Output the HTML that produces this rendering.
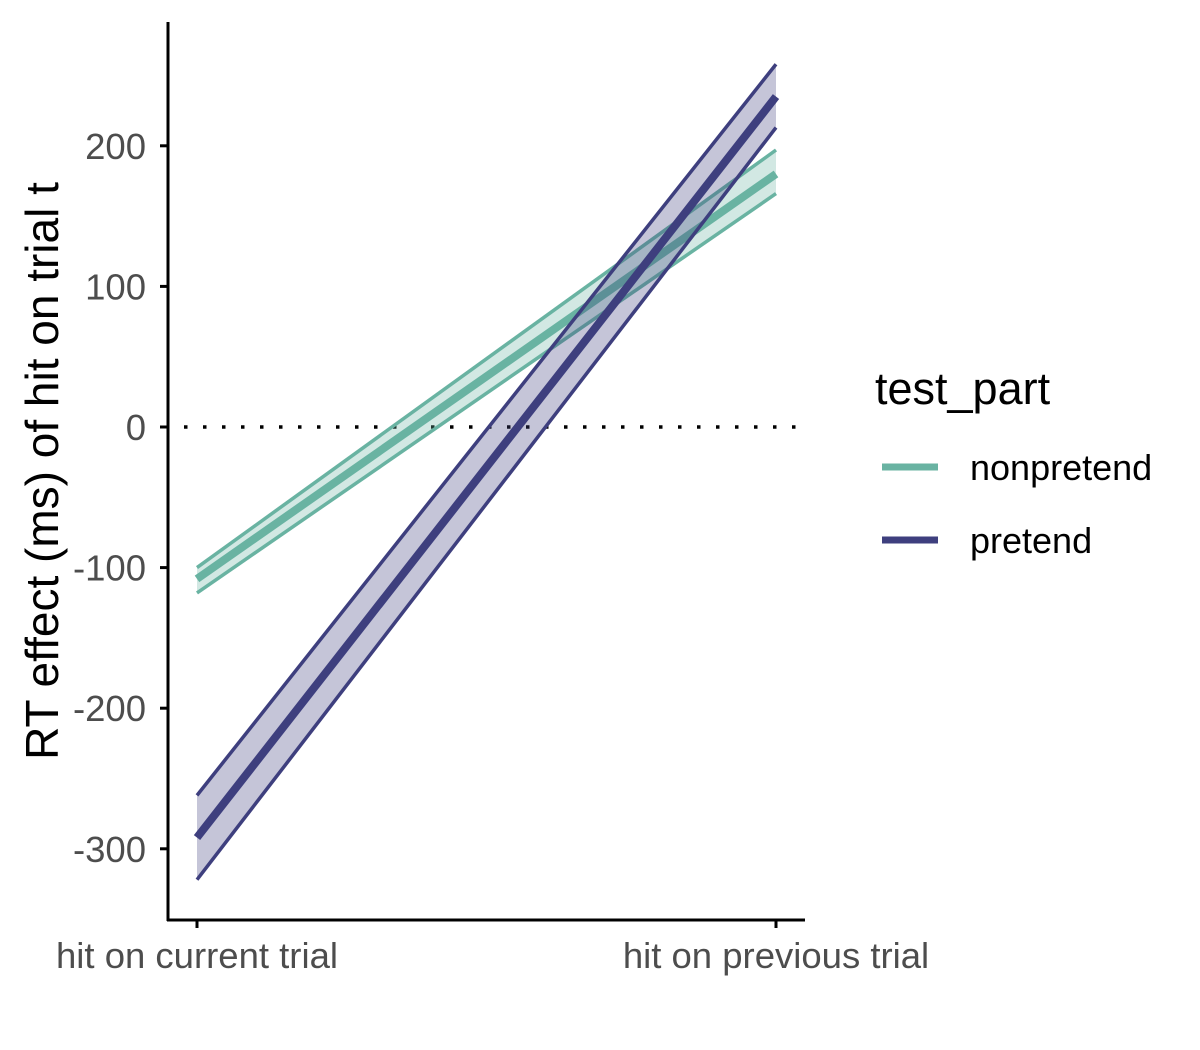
<!DOCTYPE html>
<html><head><meta charset="utf-8"><style>
body{margin:0;background:#fff;}
svg{display:block;font-family:"Liberation Sans",Arial,sans-serif;}
</style></head><body>
<svg id="chart" width="1200" height="1050"></svg>
<script>
const categories=["hit on current trial","hit on previous trial"];
const seriesNames=["nonpretend","pretend"];
const nonpretendMean=[-108,180];
const nonpretendLower=[-118,166];
const nonpretendUpper=[-100,197];
const pretendMean=[-292,235];
const pretendLower=[-322,213];
const pretendUpper=[-262,258];
const yTicks=[-300,-200,-100,0,100,200];
const yTickLabels=["-300","-200","-100","0","100","200"];

const NS="http://www.w3.org/2000/svg";
const svg=document.getElementById('chart');
function y(v){return 427-v*1.406;}
function x(i){return 197+i*579;}
function mk(tag,attrs,parent){const e=document.createElementNS(NS,tag);for(const k in attrs)e.setAttribute(k,attrs[k]);(parent||svg).appendChild(e);return e;}

let zl=mk('line',{x1:184,x2:800,y1:y(0),y2:y(0),stroke:'#000','stroke-width':3.5,'stroke-dasharray':'3.5,15.5'});



const series=[
 {name:'nonpretend',mean:nonpretendMean,lo:nonpretendLower,hi:nonpretendUpper,color:'#69b3a2'},
 {name:'pretend',mean:pretendMean,lo:pretendLower,hi:pretendUpper,color:'#3e3f7e'}
];
series.forEach(s=>{
 const g=mk('g',{});
 
 
 const pts=[[x(0),y(s.hi[0])],[x(1),y(s.hi[1])],[x(1),y(s.lo[1])],[x(0),y(s.lo[0])]];
 const rb=mk('polygon',{points:pts.map(p=>p.join(',')).join(' '),fill:s.color,'fill-opacity':0.3},g);
 
 
 [s.lo,s.hi].forEach((arr,k)=>{
  const l=mk('line',{x1:x(0),y1:y(arr[0]),x2:x(1),y2:y(arr[1]),stroke:s.color,'stroke-width':3.5},g);
  
  
 });
 const m=mk('line',{x1:x(0),y1:y(s.mean[0]),x2:x(1),y2:y(s.mean[1]),stroke:s.color,'stroke-width':8},g);
 
 
});

let ya=mk('line',{x1:168,y1:22,x2:168,y2:921,stroke:'#000','stroke-width':3});


let xa=mk('line',{x1:167,y1:920,x2:805,y2:920,stroke:'#000','stroke-width':3});


yTicks.forEach((v,i)=>{
 const t=mk('line',{x1:160,x2:168,y1:y(v),y2:y(v),stroke:'#000','stroke-width':3});
 
 
 const tx=mk('text',{x:146,y:y(v)+13,'text-anchor':'end','font-size':36.5,fill:'#4d4d4d'});
 tx.textContent=yTickLabels[i];
 
 
});
categories.forEach((c,i)=>{
 const t=mk('line',{x1:x(i),x2:x(i),y1:920,y2:928,stroke:'#000','stroke-width':3});
 
 
 const tx=mk('text',{x:x(i),y:968,'text-anchor':'middle','font-size':36.5,fill:'#4d4d4d'});
 tx.textContent=c;
 
 
});
let yt=mk('text',{x:0,y:0,transform:'translate(58,471) rotate(-90)','text-anchor':'middle','font-size':46,fill:'#000'});
yt.textContent='RT effect (ms) of hit on trial t';



const lg=mk('g',{});


let lt=mk('text',{x:875,y:404,'font-size':45,fill:'#000'},lg);
lt.textContent='test_part';


series.forEach((s,i)=>{
 const yy=467+i*73;
 const l=mk('line',{x1:882,x2:938,y1:yy,y2:yy,stroke:s.color,'stroke-width':7},lg);
 
 
 const tx=mk('text',{x:970,y:yy+13,'font-size':36,fill:'#000'},lg);
 tx.textContent=seriesNames[i];
 
 
});
</script>
</body></html>
